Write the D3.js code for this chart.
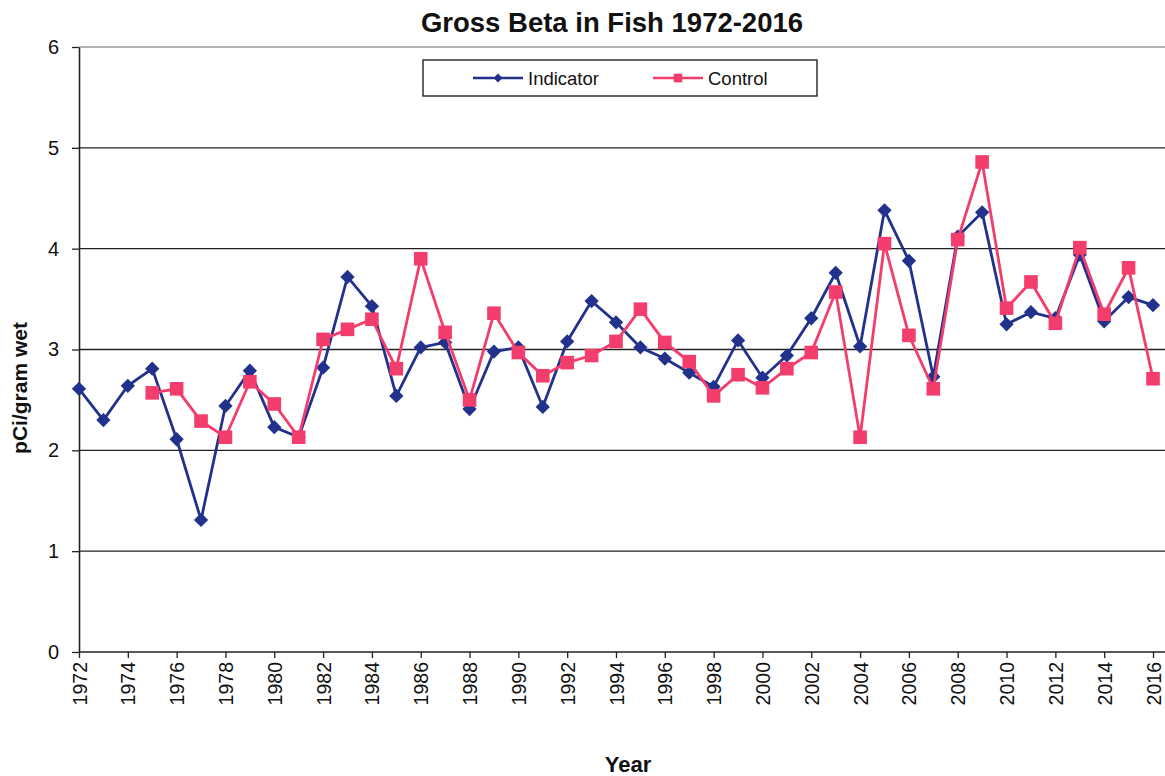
<!DOCTYPE html>
<html>
<head>
<meta charset="utf-8">
<script src="https://cdn.jsdelivr.net/npm/d3@7"></script>
<style>
  body { margin: 0; background: #fff; }
  text { font-family: "Liberation Sans", Arial, sans-serif; }
</style>
</head>
<body>
<svg id="chart" width="1165" height="776"></svg>
<script>
// years on the category axis
const years = d3.range(1972, 2017);

// Indicator station values (pCi/gram wet)
const indicator = [2.61, 2.30, 2.64, 2.81, 2.11, 1.31, 2.44, 2.79, 2.23, 2.13,
  2.82, 3.72, 3.43, 2.54, 3.02, 3.07, 2.41, 2.98, 3.02, 2.43,
  3.08, 3.48, 3.27, 3.02, 2.91, 2.77, 2.63, 3.09, 2.72, 2.94,
  3.31, 3.76, 3.03, 4.38, 3.88, 2.73, 4.12, 4.36, 3.25, 3.37,
  3.31, 3.94, 3.28, 3.52, 3.44];

// Control station values, none before 1975
const control = [null, null, null, 2.57, 2.61, 2.29, 2.13, 2.68, 2.46, 2.13,
  3.10, 3.20, 3.30, 2.81, 3.90, 3.17, 2.50, 3.36, 2.97, 2.74,
  2.87, 2.94, 3.08, 3.40, 3.07, 2.88, 2.54, 2.75, 2.62, 2.81,
  2.97, 3.57, 2.13, 4.05, 3.14, 2.61, 4.09, 4.86, 3.41, 3.67,
  3.26, 4.01, 3.35, 3.81, 2.71];

const yTicks = [0, 1, 2, 3, 4, 5, 6];
const xTickYears = years.filter(y => y % 2 === 0);

const svg = d3.select("#chart");
const plotLeft = 79, plotRight = 1153, plotTop = 47, plotBottom = 652;

const x = d3.scaleLinear().domain([1972, 2016]).range([plotLeft, plotRight]);
const y = d3.scaleLinear().domain([0, 6]).range([plotBottom, plotTop]);

const blue = "#22318c", pink = "#f23d6d";
const font = "'Liberation Sans', Arial, sans-serif";

// grid lines
svg.append("g")
  .selectAll("line")
  .data(yTicks.filter(d => d > 0))
  .join("line")
  .attr("x1", plotLeft).attr("x2", 1165)
  .attr("y1", d => y(d)).attr("y2", d => y(d))
  .attr("stroke", d => d === 6 ? "#999" : "#222")
  .attr("stroke-width", 1.3);

// y axis
const yAxis = svg.append("g")
  .attr("transform", `translate(${plotLeft},0)`)
  .call(d3.axisLeft(y).tickValues(yTicks).tickFormat(d3.format("d")).tickSize(7).tickSizeOuter(0).tickPadding(13));
yAxis.select(".domain").attr("stroke", "#222").attr("stroke-width", 1.6);
yAxis.selectAll(".tick line").attr("stroke", "#222").attr("stroke-width", 1.3);
yAxis.selectAll("text").attr("font-size", 20).attr("fill", "#111")
  .style("font-family", font);

// x axis
const xAxis = svg.append("g")
  .attr("transform", `translate(0,${plotBottom})`)
  .call(d3.axisBottom(x).tickValues(xTickYears).tickFormat(d3.format("d")).tickSize(6).tickSizeOuter(0));
xAxis.select(".domain").attr("stroke", "#222").attr("stroke-width", 1.6)
  .attr("d", `M${plotLeft},0H1165`);
xAxis.selectAll(".tick line").attr("stroke", "#222").attr("stroke-width", 1.3);
xAxis.selectAll("text")
  .attr("font-size", 19.5).attr("fill", "#111")
  .attr("text-anchor", "end")
  .attr("transform", "rotate(-90)")
  .attr("x", -10).attr("y", 0).attr("dy", "0.36em")
  .style("font-family", font);

// lines
const line = d3.line()
  .defined(d => d[1] != null)
  .x(d => x(d[0])).y(d => y(d[1]));

const series = [
  { name: "Indicator", values: indicator, color: blue, shape: d3.symbolDiamond2, size: 130 },
  { name: "Control", values: control, color: pink, shape: d3.symbolSquare, size: 185 }
];

series.forEach(s => {
  const pts = years.map((yr, i) => [yr, s.values[i]]);
  svg.append("path")
    .datum(pts)
    .attr("fill", "none")
    .attr("stroke", s.color)
    .attr("stroke-width", 2.8)
    .attr("d", line);
  svg.append("g")
    .selectAll("path")
    .data(pts.filter(d => d[1] != null))
    .join("path")
    .attr("transform", d => `translate(${x(d[0])},${y(d[1])})`)
    .attr("d", d3.symbol(s.shape, s.size))
    .attr("fill", s.color);
});

// legend
const lg = svg.append("g");
lg.append("rect")
  .attr("x", 423).attr("y", 60).attr("width", 394).attr("height", 36)
  .attr("fill", "#fff").attr("stroke", "#111").attr("stroke-width", 1.3);
series.forEach((s, i) => {
  const lx = 473 + i * 180, ly = 78;
  lg.append("line")
    .attr("x1", lx).attr("x2", lx + 50).attr("y1", ly).attr("y2", ly)
    .attr("stroke", s.color).attr("stroke-width", 2.4);
  lg.append("path")
    .attr("transform", `translate(${lx + 25},${ly})`)
    .attr("d", d3.symbol(s.shape, s.size * 0.4))
    .attr("fill", s.color);
  lg.append("text")
    .attr("x", lx + 55).attr("y", ly).attr("dy", "0.36em")
    .attr("font-size", 18.5).attr("fill", "#111")
    .text(s.name);
});

// titles
svg.append("text")
  .attr("x", 612).attr("y", 32)
  .attr("text-anchor", "middle")
  .attr("font-size", 27.5).attr("font-weight", "bold").attr("fill", "#111")
  .text("Gross Beta in Fish 1972-2016");

svg.append("text")
  .attr("transform", "translate(27,388) rotate(-90)")
  .attr("text-anchor", "middle")
  .attr("font-size", 21).attr("font-weight", "bold").attr("fill", "#111")
  .text("pCi/gram wet");

svg.append("text")
  .attr("x", 628).attr("y", 772)
  .attr("text-anchor", "middle")
  .attr("font-size", 22).attr("font-weight", "bold").attr("fill", "#111")
  .text("Year");
</script>
</body>
</html>
